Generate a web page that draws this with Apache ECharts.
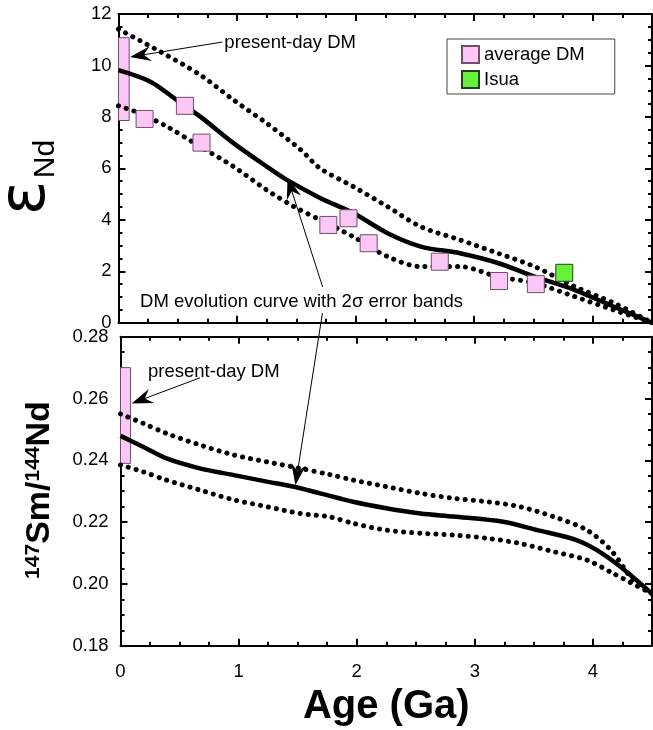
<!DOCTYPE html>
<html><head><meta charset="utf-8">
<script src="https://cdn.jsdelivr.net/npm/echarts@6/dist/echarts.min.js"></script>
<style>html,body{margin:0;padding:0;background:#fff}#c{width:653px;height:730px}</style>
</head><body><div id="c"></div>
<script>
// ---------------- data ----------------
// top panel: epsilon Nd vs age (Ga)
const epsSolid = [[0,9.82],[0.27,9.37],[0.49,8.66],[0.69,8.01],[0.97,6.98],[1.25,6.07],[1.42,5.55],[1.70,4.85],[1.98,4.26],[2.27,3.48],[2.55,2.96],[2.88,2.70],[3.20,2.32],[3.51,1.79],[3.85,1.27],[4.18,0.62],[4.5,0.0]];
const epsUpper = [[0,11.41],[0.35,10.54],[0.69,9.63],[0.97,8.66],[1.25,7.75],[1.54,6.71],[1.70,6.0],[1.98,5.29],[2.27,4.51],[2.55,3.73],[2.88,3.22],[3.20,2.70],[3.51,2.18],[3.85,1.40],[4.18,0.76],[4.5,0.0]];
const epsLower = [[0,8.43],[0.18,8.14],[0.41,7.62],[0.69,6.84],[0.97,6.07],[1.25,5.16],[1.48,4.51],[1.70,4.0],[1.98,3.34],[2.27,2.57],[2.55,2.18],[2.88,2.18],[3.20,1.79],[3.51,1.54],[3.85,1.01],[4.18,0.49],[4.5,0.0]];
const avgDMAge = [0.22,0.56,0.70,1.77,1.94,2.11,2.71,3.21,3.52];
const avgDMEps = [7.92,8.43,7.00,3.80,4.06,3.09,2.37,1.62,1.50];
const isuaAge = [3.76];
const isuaEps = [1.94];
const presentDMAgeTop = [0, 0.09];
const presentDMEps = [7.86, 11.08];
// bottom panel: 147Sm/144Nd vs age (Ga)
const smSolid = [[0,0.2479],[0.19,0.2444],[0.39,0.2406],[0.67,0.2374],[0.96,0.2352],[1.24,0.2331],[1.46,0.2315],[1.69,0.2293],[1.97,0.2266],[2.25,0.2245],[2.54,0.2228],[2.82,0.2218],[3.24,0.2201],[3.53,0.2174],[3.86,0.2142],[4.03,0.2110],[4.23,0.2056],[4.5,0.1968]];
const smUpper = [[0,0.2550],[0.19,0.2520],[0.39,0.2487],[0.67,0.2450],[0.96,0.2417],[1.24,0.2395],[1.52,0.2374],[1.77,0.2354],[1.97,0.2336],[2.25,0.2315],[2.54,0.2293],[2.82,0.2277],[3.10,0.2266],[3.38,0.2250],[3.67,0.2217],[3.95,0.2174],[4.15,0.2110],[4.34,0.2013],[4.5,0.1968]];
const smLower = [[0,0.2385],[0.19,0.2363],[0.39,0.2336],[0.67,0.2304],[0.96,0.2272],[1.24,0.2250],[1.52,0.2228],[1.77,0.2217],[1.97,0.2196],[2.25,0.2174],[2.54,0.2164],[2.82,0.2158],[3.10,0.2148],[3.38,0.2131],[3.67,0.2104],[3.95,0.2077],[4.17,0.2034],[4.5,0.1968]];
const presentDMAgeBottom = [0, 0.085];
const presentDMSm = [0.239, 0.270];
// tick labels
const xTickLabels = [0,1,2,3,4];
const epsTickLabels = [0,2,4,6,8,10,12];
const smTickLabels = [0.18,0.20,0.22,0.24,0.26,0.28];
// annotation anchors (data coordinates)
const noteTopPos = [0.893, 10.87];
const arrowTopFrom = [0.876, 10.91], arrowTopTip = [0.097, 10.33];
const noteCurvePos = [0.182, 0.80];
const arrowCurveFrom = [1.722, 1.39], arrowCurveTip = [1.426, 5.63];
const arrowDownFrom = [1.72, 0.37], arrowDownTip = [1.481, 0.232];
const noteBotPos = [0.233, 0.2687];
const arrowBotFrom = [0.673, 0.2667], arrowBotTip = [0.095, 0.2584];

// ---------------- chart ----------------
const FONT = 'Liberation Sans';
const PINK = '#fcc6f7';
const PINK_EDGE = '#6e4f6c';
const GREEN = '#66f23a';
function range(a,b,s){const r=[];for(let v=a;v<=b+1e-9;v+=s)r.push(+v.toFixed(4));return r;}
const xMinor = range(0,4.5,0.25);
const epsMinor = range(0,12,0.5);
const smMinor = range(0.18,0.28,0.005);

function axisSet(dim, gridIndex, min, max, majors, minors, labelOpts, extra) {
  const positions = dim === 'x' ? ['bottom','top'] : ['left','right'];
  const out = [];
  positions.forEach((pos, pi) => {
    out.push(Object.assign({
      gridIndex, type:'value', min, max, position:pos,
      axisLine:{show:true, onZero:false, lineStyle:{color:'#000', width:2}},
      axisTick:{show:true, inside:true, length:4, customValues:minors, lineStyle:{color:'#000', width:2}},
      axisLabel:(pi === 0 && labelOpts) ? labelOpts : {show:false},
      splitLine:{show:false}
    }, pi === 0 ? (extra || {}) : {}));
    out.push({
      gridIndex, type:'value', min, max, position:pos,
      axisLine:{show:false, onZero:false},
      axisTick:{show:true, inside:true, length:7, customValues:majors, lineStyle:{color:'#000', width:2}},
      axisLabel:{show:false}, splitLine:{show:false}
    });
  });
  return out;
}
const lbl = (extra) => Object.assign({show:true, fontSize:18.5, fontFamily:FONT, color:'#000'}, extra);

const xAxes = [].concat(
  axisSet('x', 0, 0, 4.5, xTickLabels, xMinor, null),
  axisSet('x', 1, 0, 4.5, xTickLabels, xMinor, lbl({customValues:xTickLabels, margin:17}),
    {name:'Age (Ga)', nameLocation:'middle', nameGap:41,
     nameTextStyle:{fontSize:40, fontWeight:'bold', fontFamily:FONT, color:'#000'}})
);
const yAxes = [].concat(
  axisSet('y', 0, 0, 12, epsTickLabels, epsMinor, lbl({customValues:epsTickLabels, margin:7})),
  axisSet('y', 1, 0.18, 0.28, smTickLabels, smMinor, lbl({customValues:smTickLabels, margin:12, formatter:v=>v.toFixed(2)}))
);

function barRender(params, api) {
  const p0 = api.coord([api.value(0), api.value(3)]);
  const p1 = api.coord([api.value(1), api.value(2)]);
  return {type:'rect', shape:{x:p0[0], y:p0[1], width:p1[0]-p0[0], height:p1[1]-p0[1]},
          style:{fill:PINK, stroke:PINK_EDGE, lineWidth:1}};
}
const solidStyle = {width:4.5, color:'#000'};
const dotStyle = {width:5, type:[0.1, 8], cap:'round', color:'#000'};
function lineS(data, xi, style) {
  return {type:'line', xAxisIndex:xi, yAxisIndex:xi, data, symbol:'none', smooth:0.3,
          lineStyle:style, itemStyle:{color:'#000'}, z:3, silent:true};
}

const chart = echarts.init(document.getElementById('c'), null, {renderer:'canvas'});
chart.setOption({
  animation:false,
  backgroundColor:'#fff',
  grid:[
    {left:118.5, right:1, top:14, height:308.7},
    {left:120.5, right:1, top:336.7, height:309}
  ],
  xAxis:xAxes,
  yAxis:yAxes,
  legend:{
    data:['average DM','Isua'], orient:'vertical', left:447, top:39,
    itemWidth:17, itemHeight:17, itemGap:6, padding:[6,30,5,14],
    backgroundColor:'#fff', borderColor:'#444', borderWidth:1, borderRadius:0,
    icon:'rect', textStyle:{fontSize:18.5, fontFamily:FONT, color:'#000'}
  },
  series:[
    {type:'custom', xAxisIndex:0, yAxisIndex:0, renderItem:barRender, z:1, silent:true,
     data:[[presentDMAgeTop[0], presentDMAgeTop[1], presentDMEps[0], presentDMEps[1]]]},
    lineS(epsUpper, 0, dotStyle),
    lineS(epsLower, 0, dotStyle),
    lineS(epsSolid, 0, solidStyle),
    {type:'scatter', name:'average DM', xAxisIndex:0, yAxisIndex:0, symbol:'rect', symbolSize:17, z:5,
     itemStyle:{color:PINK, borderColor:PINK_EDGE, borderWidth:1, opacity:1},
     data:avgDMAge.map((a,i)=>[a, avgDMEps[i]])},
    {type:'scatter', name:'Isua', xAxisIndex:0, yAxisIndex:0, symbol:'rect', symbolSize:17, z:5,
     itemStyle:{color:GREEN, borderColor:'#2a3a22', borderWidth:1, opacity:1},
     data:isuaAge.map((a,i)=>[a, isuaEps[i]])},
    {type:'custom', xAxisIndex:4, yAxisIndex:4, renderItem:barRender, z:1, silent:true,
     data:[[presentDMAgeBottom[0], presentDMAgeBottom[1], presentDMSm[0], presentDMSm[1]]]},
    lineS(smUpper, 4, dotStyle),
    lineS(smLower, 4, dotStyle),
    lineS(smSolid, 4, solidStyle)
  ]
});

// ---------------- annotations ----------------
const P0 = (p) => chart.convertToPixel({xAxisIndex:0, yAxisIndex:0}, p);
const P1 = (p) => chart.convertToPixel({xAxisIndex:4, yAxisIndex:4}, p);
function arrow(a, b) {
  const dx = b[0]-a[0], dy = b[1]-a[1], L = Math.hypot(dx, dy);
  const ux = dx/L, uy = dy/L, nx = -uy, ny = ux;
  const len = 21, hw = 7.5, notch = 14;
  const bx = b[0]-ux*len, by = b[1]-uy*len;
  const mx = b[0]-ux*notch, my = b[1]-uy*notch;
  return [
    {type:'line', shape:{x1:a[0], y1:a[1], x2:mx, y2:my}, style:{stroke:'#000', lineWidth:1}, z:50},
    {type:'polygon', shape:{points:[[b[0],b[1]],[bx+nx*hw,by+ny*hw],[mx,my],[bx-nx*hw,by-ny*hw]]}, style:{fill:'#000'}, z:50}
  ];
}
function note(p, text) {
  return {type:'text', x:p[0], y:p[1], z:50,
          style:{text, fontSize:18.5, fontFamily:FONT, fill:'#000', align:'left', verticalAlign:'middle',
                 textAlign:'left', textVerticalAlign:'middle'}};
}
const g = [];
g.push(note(P0(noteTopPos), 'present-day DM'));
g.push(...arrow(P0(arrowTopFrom), P0(arrowTopTip)));
g.push(note(P0(noteCurvePos), 'DM evolution curve with 2σ error bands'));
g.push(...arrow(P0(arrowCurveFrom), P0(arrowCurveTip)));
g.push(...arrow(P0(arrowDownFrom), P1(arrowDownTip)));
g.push(note(P1(noteBotPos), 'present-day DM'));
g.push(...arrow(P1(arrowBotFrom), P1(arrowBotTip)));
// axis titles
g.push({type:'text', x:27, y:198, rotation:Math.PI/2, z:50,
        style:{text:'ε', fontSize:64, fontFamily:'DejaVu Sans', fill:'#000',
               align:'center', verticalAlign:'middle', textAlign:'center', textVerticalAlign:'middle'}});
g.push({type:'text', x:46, y:159, rotation:Math.PI/2, z:50,
        style:{text:'Nd', fontSize:30, fontFamily:FONT, fill:'#000',
               align:'center', verticalAlign:'middle', textAlign:'center', textVerticalAlign:'middle'}});
g.push({type:'text', x:40, y:490, rotation:Math.PI/2, z:50,
        style:{text:'{sup|147}{m|Sm/}{sup|144}{m|Nd}', fill:'#000',
               align:'center', verticalAlign:'middle', textAlign:'center', textVerticalAlign:'middle',
               rich:{
                 sup:{fontSize:21, fontWeight:'bold', fontFamily:FONT, fill:'#000', verticalAlign:'top', lineHeight:34},
                 m:{fontSize:34, fontWeight:'bold', fontFamily:FONT, fill:'#000', lineHeight:34}
               }}});
chart.setOption({graphic:g});
</script>
</body></html>
